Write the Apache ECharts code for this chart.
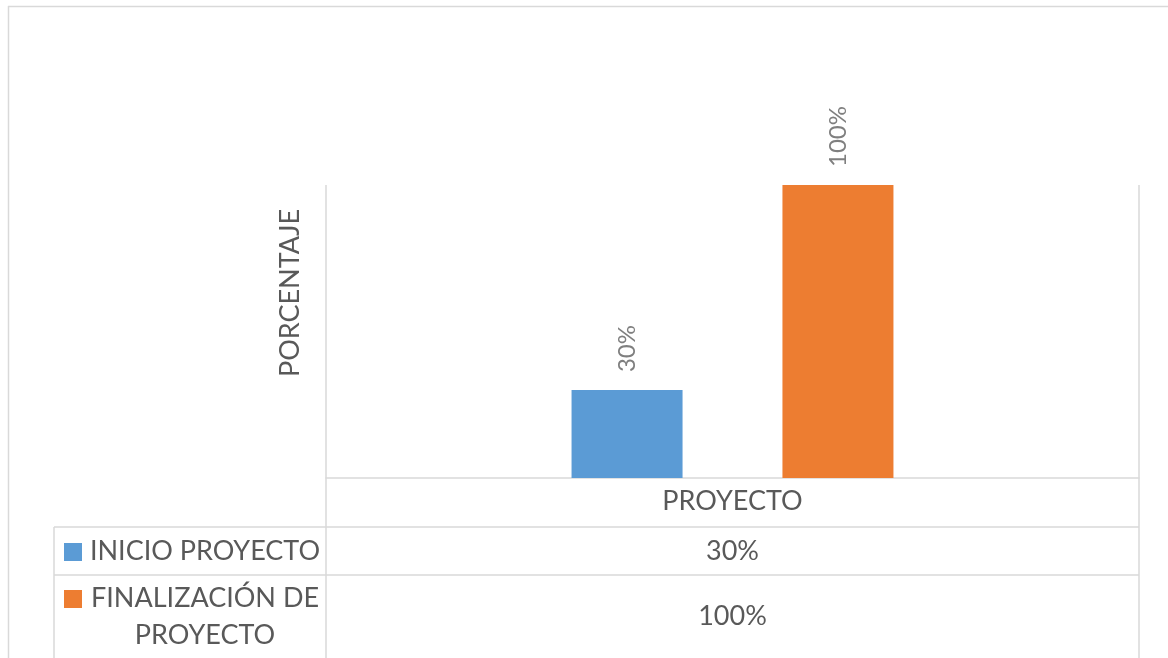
<!DOCTYPE html>
<html>
<head>
<meta charset="utf-8">
<script src="https://cdn.jsdelivr.net/npm/echarts@6/dist/echarts.min.js"></script>
<style>
  html, body { margin: 0; padding: 0; background: #ffffff; }
  #chart { width: 1168px; height: 658px; }
</style>
</head>
<body>
<div id="chart"></div>
<script>
// Chart data
const categories = ['PROYECTO'];
const seriesNames = ['INICIO PROYECTO', 'FINALIZACIÓN DE PROYECTO'];
const inicioValues = [30];
const finalizacionValues = [100];
const seriesColors = ['#5b9bd5', '#ed7d31'];
const axisTitle = 'PORCENTAJE';
const valueMin = 0;
const valueMax = 100;

const FONT = 'Lato, "Open Sans", sans-serif';
const TEXT = '#595959';
const LINE = '#d9d9d9';
const TABLE_FONT_SIZE = 27;
const TABLE_LINE_HEIGHT = 37;

// Layout of the plot area and the data table beneath it
const W = 1168, H = 658;
const plot = { left: 326, right: 1139, top: 185, bottom: 478 };
const tableLeft = 54;
const rowBottoms = [527, 575, H];
const nameBox = { center: 205, maxWidth: 232 };

const chart = echarts.init(document.getElementById('chart'), null, { renderer: 'canvas' });

const valueSeries = [inicioValues, finalizacionValues];

chart.setOption({
  backgroundColor: '#ffffff',
  animation: false,
  grid: {
    left: plot.left,
    right: W - plot.right,
    top: plot.top,
    bottom: H - plot.bottom,
    containLabel: false
  },
  xAxis: {
    type: 'category',
    data: categories,
    axisLine: { show: true, lineStyle: { color: LINE, width: 1.5 } },
    axisTick: { show: false },
    axisLabel: { show: true, margin: 10, fontFamily: FONT, fontSize: TABLE_FONT_SIZE, color: TEXT }
  },
  yAxis: {
    type: 'value',
    min: valueMin,
    max: valueMax,
    show: false,
    splitLine: { show: false }
  },
  series: seriesNames.map((name, i) => ({
    name: name,
    type: 'bar',
    data: valueSeries[i],
    barWidth: 111,
    barGap: '90%',
    itemStyle: { color: seriesColors[i] },
    label: {
      show: true,
      position: 'top',
      distance: 18,
      rotate: 90,
      align: 'left',
      verticalAlign: 'middle',
      formatter: '{c}%',
      fontFamily: FONT,
      fontSize: 24,
      color: '#7f7f7f'
    }
  }))
});

// Word-wrap a table caption to the width of the name column
const measureCtx = document.createElement('canvas').getContext('2d');
function wrapWords(text, maxWidth) {
  measureCtx.font = TABLE_FONT_SIZE + 'px ' + FONT;
  const words = text.split(' ');
  const lines = [];
  let current = '';
  words.forEach(word => {
    const trial = current ? current + ' ' + word : word;
    if (current && measureCtx.measureText(trial).width > maxWidth) {
      lines.push(current);
      current = word;
    } else {
      current = trial;
    }
  });
  if (current) lines.push(current);
  return lines;
}

// Frame lines, data table grid and its texts
function buildGraphics() {
  const els = [];
  const line = (x1, y1, x2, y2, w) => ({
    type: 'line',
    silent: true,
    shape: { x1: x1, y1: y1, x2: x2, y2: y2 },
    style: { stroke: LINE, lineWidth: w || 1.5 }
  });

  // outer chart frame
  els.push(line(8, 6.5, W, 6.5, 1.5));
  els.push(line(8.5, 6, 8.5, H, 1.5));

  // plot side borders running down through the table
  els.push(line(plot.left, plot.top, plot.left, H));
  els.push(line(plot.right, plot.top, plot.right, H));

  // table row separators and left border
  rowBottoms.slice(0, -1).forEach(y => els.push(line(tableLeft, y, plot.right, y)));
  els.push(line(tableLeft, rowBottoms[0], tableLeft, H));

  // axis title
  els.push({
    type: 'text',
    silent: true,
    x: 290,
    y: 293,
    rotation: Math.PI / 2,
    style: {
      text: axisTitle,
      fontFamily: FONT,
      fontSize: TABLE_FONT_SIZE,
      fill: TEXT,
      align: 'center',
      verticalAlign: 'middle'
    }
  });

  // one row per series: legend key, name, value under each category
  seriesNames.forEach((name, i) => {
    const top = rowBottoms[i];
    const bottom = rowBottoms[i + 1];
    const cy = (top + bottom) / 2;
    const lines = wrapWords(name, nameBox.maxWidth);
    const firstLineY = cy - (lines.length - 1) * TABLE_LINE_HEIGHT / 2;
    els.push({
      type: 'rect',
      silent: true,
      shape: { x: 64, y: firstLineY - 8, width: 18, height: 18 },
      style: { fill: seriesColors[i] }
    });
    lines.forEach((txt, k) => {
      els.push({
        type: 'text',
        silent: true,
        x: nameBox.center,
        y: firstLineY + k * TABLE_LINE_HEIGHT,
        style: {
          text: txt,
          fontFamily: FONT,
          fontSize: TABLE_FONT_SIZE,
          fill: TEXT,
          align: 'center',
          verticalAlign: 'middle'
        }
      });
    });
    categories.forEach((cat, j) => {
      const cx = chart.convertToPixel({ xAxisIndex: 0 }, cat);
      els.push({
        type: 'text',
        silent: true,
        x: cx,
        y: cy,
        style: {
          text: valueSeries[i][j] + '%',
          fontFamily: FONT,
          fontSize: TABLE_FONT_SIZE,
          fill: TEXT,
          align: 'center',
          verticalAlign: 'middle'
        }
      });
    });
  });
  return els;
}

chart.setOption({ graphic: { elements: buildGraphics() } });
</script>
</body>
</html>
